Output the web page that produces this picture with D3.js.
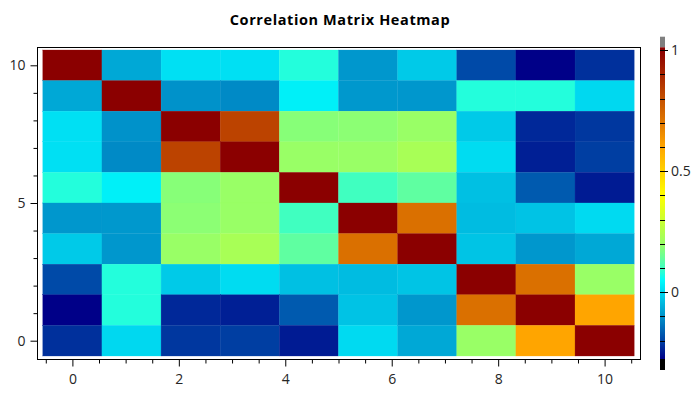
<!DOCTYPE html>
<html><head><meta charset="utf-8">
<script src="https://cdn.jsdelivr.net/npm/d3@7/dist/d3.min.js"></script>
<style>body{margin:0;background:#fff}svg{display:block}</style>
</head><body><svg id="c" width="700" height="400"></svg>
<script>
// ---- data ----
const colCenters = [0, 1.111, 2.222, 3.333, 4.444, 5.556, 6.667, 7.778, 8.889, 10];
const rowCenters = [10, 8.889, 7.778, 6.667, 5.556, 4.444, 3.333, 2.222, 1.111, 0]; // top to bottom
const corr = [
  [ 1.000, -0.069,  0.011,  0.011,  0.077, -0.093, -0.020, -0.190, -0.276, -0.221],
  [-0.069,  1.000, -0.100, -0.110,  0.033, -0.092, -0.093,  0.077,  0.077,  0.000],
  [ 0.011, -0.100,  1.000,  0.830,  0.180,  0.185,  0.200, -0.020, -0.230, -0.213],
  [ 0.011, -0.110,  0.830,  1.000,  0.200,  0.200,  0.230,  0.005, -0.240, -0.205],
  [ 0.077,  0.033,  0.180,  0.200,  1.000,  0.100,  0.135, -0.034, -0.170, -0.245],
  [-0.093, -0.092,  0.185,  0.200,  0.100,  1.000,  0.720, -0.040, -0.030,  0.003],
  [-0.020, -0.093,  0.200,  0.230,  0.135,  0.720,  1.000, -0.028, -0.093, -0.068],
  [-0.190,  0.077, -0.020,  0.005, -0.034, -0.040, -0.028,  1.000,  0.720,  0.200],
  [-0.276,  0.077, -0.230, -0.240, -0.170, -0.030, -0.093,  0.720,  1.000,  0.600],
  [-0.221,  0.000, -0.213, -0.205, -0.245,  0.003, -0.068,  0.200,  0.600,  1.000]
];
const xTickLabels = [0, 2, 4, 6, 8, 10];
const yTickLabels = [0, 5, 10];
const cbTickLabels = [0, 0.5, 1];
const cbMinorTicks = [-0.2, -0.1, 0.1, 0.2, 0.3, 0.4, 0.6, 0.7, 0.8, 0.9];
const colorStops = [-0.276, -0.2, -0.1, 0, 0.05, 0.1, 0.2, 0.3, 0.4, 0.5, 0.6, 0.7, 0.8, 0.9, 1.0];
const colorList = ["#000088", "#0042a4", "#0092ca", "#00d8f0", "#00fcfc", "#40ffc0", "#99ff66",
                   "#ccff30", "#ffff00", "#ffd200", "#ffa500", "#e07800", "#c45000", "#a82400", "#8b0000"];
const colorDomain = [-0.276, 1.012];

// ---- drawing ----
const svg = d3.select("#c");
const font = "'Open Sans', 'Noto Sans', sans-serif";
const x = d3.scaleLinear().domain([-0.665, 10.665]).range([37, 640]);
const y = d3.scaleLinear().domain([-0.665, 10.665]).range([359, 47]);
const color = d3.scaleLinear().domain(colorStops).range(colorList).interpolate(d3.interpolateRgb).clamp(true);

// cell edges: midpoints between neighbouring centres, half a step beyond the ends
function edges(centers) {
  const n = centers.length;
  return centers.map((c, k) => {
    const lo = k > 0 ? (centers[k - 1] + c) / 2 : c - (centers[1] - centers[0]) / 2;
    const hi = k < n - 1 ? (centers[k + 1] + c) / 2 : c + (centers[n - 1] - centers[n - 2]) / 2;
    return [lo, hi];
  });
}
const colEdges = edges(colCenters);
const rowEdges = edges(rowCenters);

svg.append("text").attr("x", 340).attr("y", 25).attr("text-anchor", "middle")
  .attr("font-family", font).attr("font-weight", "bold").attr("font-size", 14.5)
  .attr("letter-spacing", 0.6).attr("fill", "#000")
  .text("Correlation Matrix Heatmap");

const cells = [];
corr.forEach((row, i) => row.forEach((v, j) => cells.push({i, j, v})));
svg.append("g").selectAll("rect").data(cells).join("rect")
  .attr("x", d => x(Math.min(...colEdges[d.j])))
  .attr("width", d => Math.abs(x(colEdges[d.j][1]) - x(colEdges[d.j][0])))
  .attr("y", d => y(Math.max(...rowEdges[d.i])))
  .attr("height", d => Math.abs(y(rowEdges[d.i][1]) - y(rowEdges[d.i][0])))
  .attr("fill", d => color(d.v))
  .attr("stroke", d => color(d.v)).attr("stroke-width", 0.3);

// frame
svg.append("rect").attr("x", x.range()[0] + 0.5).attr("y", y.range()[1] + 0.5)
  .attr("width", x.range()[1] - x.range()[0]).attr("height", y.range()[0] - y.range()[1])
  .attr("fill", "none").attr("stroke", "#000").attr("stroke-width", 1);

function styleAxis(g) {
  g.select(".domain").remove();
  g.selectAll("line").attr("stroke", "#000");
  g.selectAll("text").attr("font-family", font).attr("font-size", 14).attr("fill", "#262626");
}
const xMinor = d3.range(-1, 22).map(k => k * 0.5).filter(v => v >= -0.6 && v <= 10.6 && !xTickLabels.includes(v));
svg.append("g").attr("transform", `translate(0,${y.range()[0] + 0.5})`)
  .call(d3.axisBottom(x).tickValues(xMinor).tickSize(4).tickFormat("")).call(styleAxis);
svg.append("g").attr("transform", `translate(0,${y.range()[0] + 0.5})`)
  .call(d3.axisBottom(x).tickValues(xTickLabels).tickSize(7).tickPadding(8)).call(styleAxis);

const yMinor = d3.range(0, 11).filter(v => !yTickLabels.includes(v));
svg.append("g").attr("transform", `translate(${x.range()[0] + 0.5},0)`)
  .call(d3.axisLeft(y).tickValues(yMinor).tickSize(4).tickFormat("")).call(styleAxis);
svg.append("g").attr("transform", `translate(${x.range()[0] + 0.5},0)`)
  .call(d3.axisLeft(y).tickValues(yTickLabels).tickSize(7).tickPadding(5)).call(styleAxis);

// colorbar
const cb = d3.scaleLinear().domain(colorDomain).range([359, 47.3]);
const cbX = 660, cbW = 5;
const defs = svg.append("defs");
const grad = defs.append("linearGradient").attr("id", "cbg").attr("x1", 0).attr("y1", 1).attr("x2", 0).attr("y2", 0);
colorStops.forEach((s, k) => {
  const off = (Math.max(s, colorDomain[0]) - colorDomain[0]) / (colorDomain[1] - colorDomain[0]);
  grad.append("stop").attr("offset", Math.min(off, 1)).attr("stop-color", colorList[k]);
});
svg.append("rect").attr("x", cbX).attr("width", cbW).attr("y", cb(colorDomain[1]) - 10.6).attr("height", 10.6).attr("fill", "#808080");
svg.append("rect").attr("x", cbX).attr("width", cbW).attr("y", cb(colorDomain[1]))
  .attr("height", cb(colorDomain[0]) - cb(colorDomain[1])).attr("fill", "url(#cbg)");
svg.append("rect").attr("x", cbX).attr("width", cbW).attr("y", cb(colorDomain[0])).attr("height", 11).attr("fill", "#000");

svg.append("g").selectAll("line").data(cbMinorTicks).join("line")
  .attr("x1", cbX).attr("x2", cbX + cbW).attr("y1", d => Math.round(cb(d)) + 0.5).attr("y2", d => Math.round(cb(d)) + 0.5)
  .attr("stroke", "#000");
svg.append("g").selectAll("line").data(cbTickLabels).join("line")
  .attr("x1", cbX).attr("x2", cbX + 8).attr("y1", d => Math.round(cb(d)) + 0.5).attr("y2", d => Math.round(cb(d)) + 0.5)
  .attr("stroke", "#000");
svg.append("g").selectAll("text").data(cbTickLabels).join("text")
  .attr("x", cbX + 11).attr("y", d => cb(d)).attr("dy", "0.35em")
  .attr("font-family", font).attr("font-size", 14).attr("fill", "#262626")
  .text(d => d3.format("")(d));
</script></body></html>
